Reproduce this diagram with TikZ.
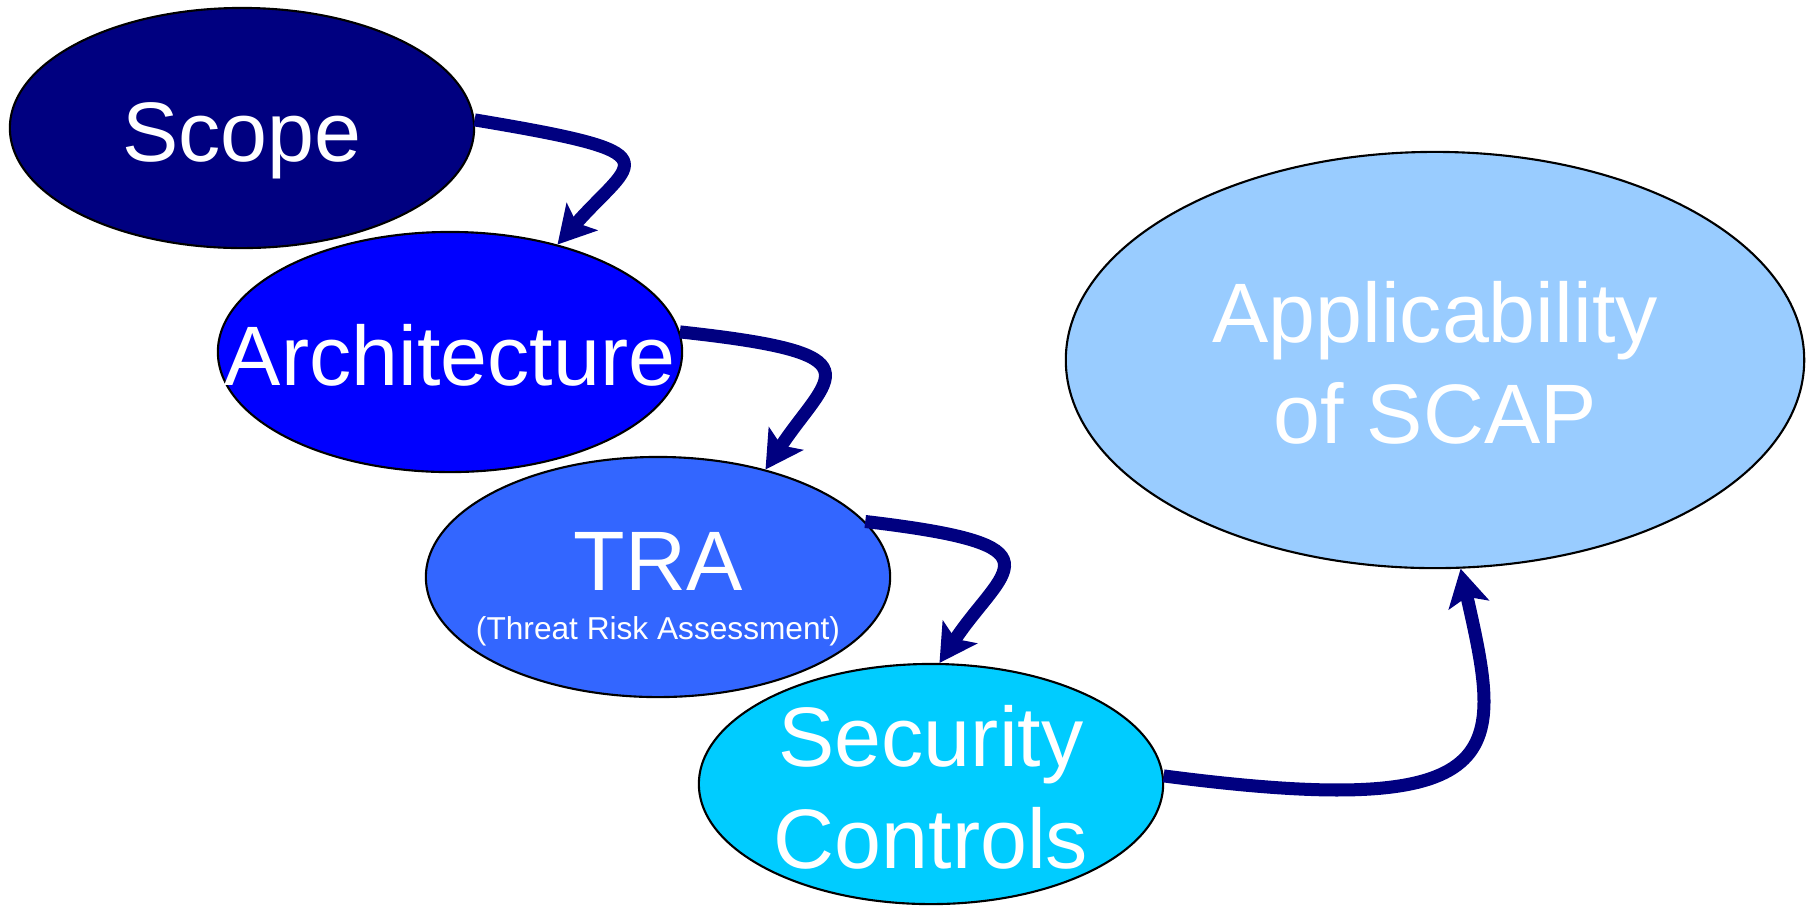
\documentclass[tikz,border=0pt]{standalone}
\usepackage{fontspec}
\setmainfont{Liberation Sans}
\usetikzlibrary{shapes.geometric,arrows.meta,calc}
\definecolor{scopecol}{HTML}{000080}
\definecolor{archcol}{HTML}{0000FF}
\definecolor{tracol}{HTML}{3366FF}
\definecolor{seccol}{HTML}{00CCFF}
\definecolor{appcol}{HTML}{99CCFF}
\definecolor{flowcol}{HTML}{000080}
\begin{document}
\begin{tikzpicture}[x=0.01cm,y=-0.01cm,
  bubble/.style={ellipse, draw=black, line width=0.6pt, inner sep=0pt,
    minimum width=4.64cm, minimum height=2.40cm},
  bigbubble/.style={bubble, minimum width=7.38cm, minimum height=4.16cm},
  lbl/.style={text=white, font=\fontsize{24}{29}\selectfont, anchor=base, inner sep=0pt},
  sublbl/.style={text=white, font=\fontsize{9}{11}\selectfont, anchor=base, inner sep=0pt},
  flow/.style={draw=flowcol, line width=3.7pt,
    -{Stealth[length=10.5pt, width=11.6pt, inset=2.3pt]}}]
\useasboundingbox (0,0) rectangle (1810,905);

% process stages
\node[bubble, fill=scopecol] (scope) at (242,128) {};
\node[bubble, fill=archcol]  (arch)  at (450,352) {};
\node[bubble, fill=tracol]   (tra)   at (658,577) {};
\node[bubble, fill=seccol]   (sec)   at (931,784) {};
\node[bigbubble, fill=appcol] (app)  at (1435,360) {};

% stage labels
\node[lbl] (scopeT) at ($(scope)+(0,33)$) {Scope};
\node[lbl] (archT)  at ($(arch)+(0,33)$) {Architecture};
\node[lbl] (traT)   at ($(tra)+(0,13)$) {TRA};
\node[sublbl] (traS) at ($(tra)+(0,62)$) {(Threat Risk Assessment)};
\node[lbl] (secA)   at ($(sec)+(0,-18)$) {Security};
\node[lbl] (secB)   at ($(sec)+(0,84)$) {Controls};
\node[lbl] (appA)   at ($(app)+(0,-18)$) {Applicability};
\node[lbl] (appB)   at ($(app)+(0,83)$) {of SCAP};

% flow between stages
\draw[flow] (scope.2) .. controls +(204,34) and +(76,-86) .. (arch.45);
\draw[flow] (arch.5) .. controls +(204,22) and +(63,-95) .. (tra.45);
\draw[flow] (tra.15) .. controls +(204,24) and +(63,-95) .. (sec.86);
\draw[flow] (sec.2) .. controls +(352,46) and +(42,185) .. (app.-83);
\end{tikzpicture}
\end{document}
